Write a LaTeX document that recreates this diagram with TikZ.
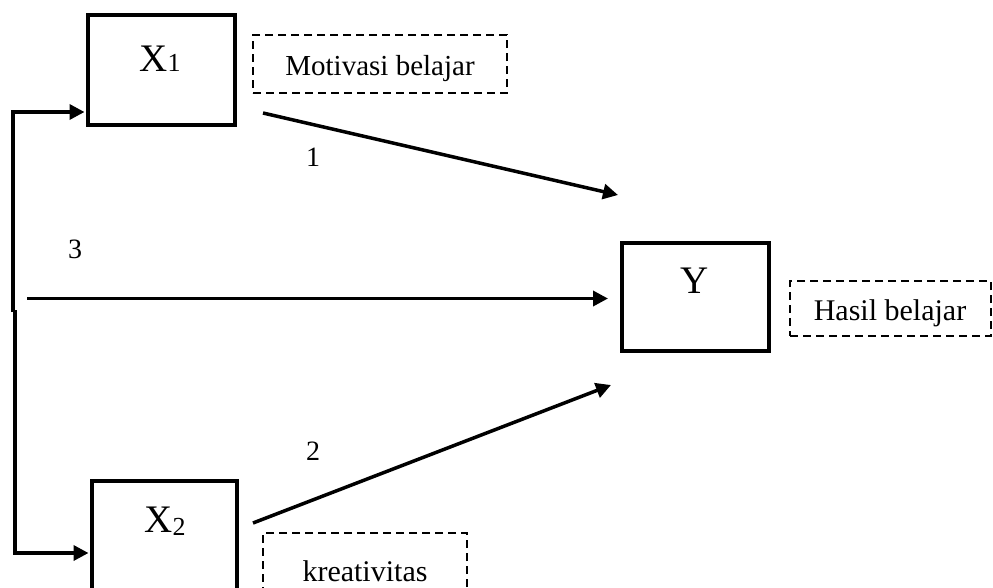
\documentclass[tikz,border=0pt]{standalone}
\usepackage{fontspec}
\setmainfont{Liberation Serif}
\usetikzlibrary{arrows.meta}
\begin{document}
\begin{tikzpicture}[x=1pt,y=-1pt,
  varbox/.style={draw,line width=4pt,inner sep=0pt},
  tagbox/.style={draw,line width=2pt,dash pattern=on 8pt off 5pt,inner sep=0pt},
  conn/.style={line width=3.5pt},
  arr/.style={line width=3.5pt,-{Triangle[length=15pt,width=15pt]}},
  lbl/.style={anchor=base,inner sep=0pt,font=\fontsize{30}{34}\selectfont},
  var/.style={anchor=base,inner sep=0pt,font=\fontsize{39}{44}\selectfont},
  num/.style={anchor=base,inner sep=0pt,font=\fontsize{28}{32}\selectfont}]
\useasboundingbox (0,0) rectangle (993,587);
\clip (0,0) rectangle (993,587);
% boxes
\node[varbox,minimum width=147pt,minimum height=110pt] (X1) at (161.5,70) {};
\node[varbox,minimum width=147pt,minimum height=108pt] (Y) at (695.5,297) {};
\node[varbox,minimum width=145pt,minimum height=110pt] (X2) at (164.5,536) {};
\node[tagbox,minimum width=254pt,minimum height=58pt] (tM) at (380,64) {};
\node[tagbox,minimum width=201pt,minimum height=55pt] (tH) at (890.5,308.5) {};
\node[tagbox,minimum width=204pt,minimum height=58pt] (tK) at (365,562) {};
% texts
\node[var] (X1t) at (160,71) {X{\fontsize{26}{28}\selectfont 1}};
\node[var] (Yt) at (695,293) {Y};
\node[var] (X2t) at (165,532) {X{\fontsize{26}{28}\selectfont\raisebox{-3pt}{2}}};
\node[lbl,font=\fontsize{29}{33}\selectfont] (tMt) at (380,75) {Motivasi belajar};
\node[lbl] (tHt) at (890,320) {Hasil belajar};
\node[lbl] (tKt) at (365,581) {kreativitas};
\node[num] (n1) at (313,166) {1};
\node[num] (n2) at (313,460) {2};
\node[num] (n3) at (75,258) {3};
% coordinates
\coordinate (a1s) at (263,113);
\coordinate (a1e) at (618,195);
\coordinate (a2s) at (253,523);
\coordinate (a2e) at (611,385);
\coordinate (a3s) at (27,298.5);
\coordinate (a3e) at (608,298.5);
\coordinate (v1t) at (13,112);
\coordinate (v1b) at (13,312);
\coordinate (v2t) at (15,310);
\coordinate (v2b) at (15,553);
\coordinate (e1) at (X1.west |- v1t);
\coordinate (e2) at (X2.west |- v2b);
% connectors
\draw[arr] (a1s) -- (a1e);
\draw[arr] (a2s) -- (a2e);
\draw[arr] (a3s) -- (a3e);
\draw[conn] (v1b) -- (v1t);
\draw[arr] ([xshift=-1.75pt]v1t) -- ([xshift=-1.5pt]e1);
\draw[conn] (v2t) -- (v2b);
\draw[arr] ([xshift=-1.75pt]v2b) -- ([xshift=-1.5pt]e2);
\end{tikzpicture}
\end{document}
